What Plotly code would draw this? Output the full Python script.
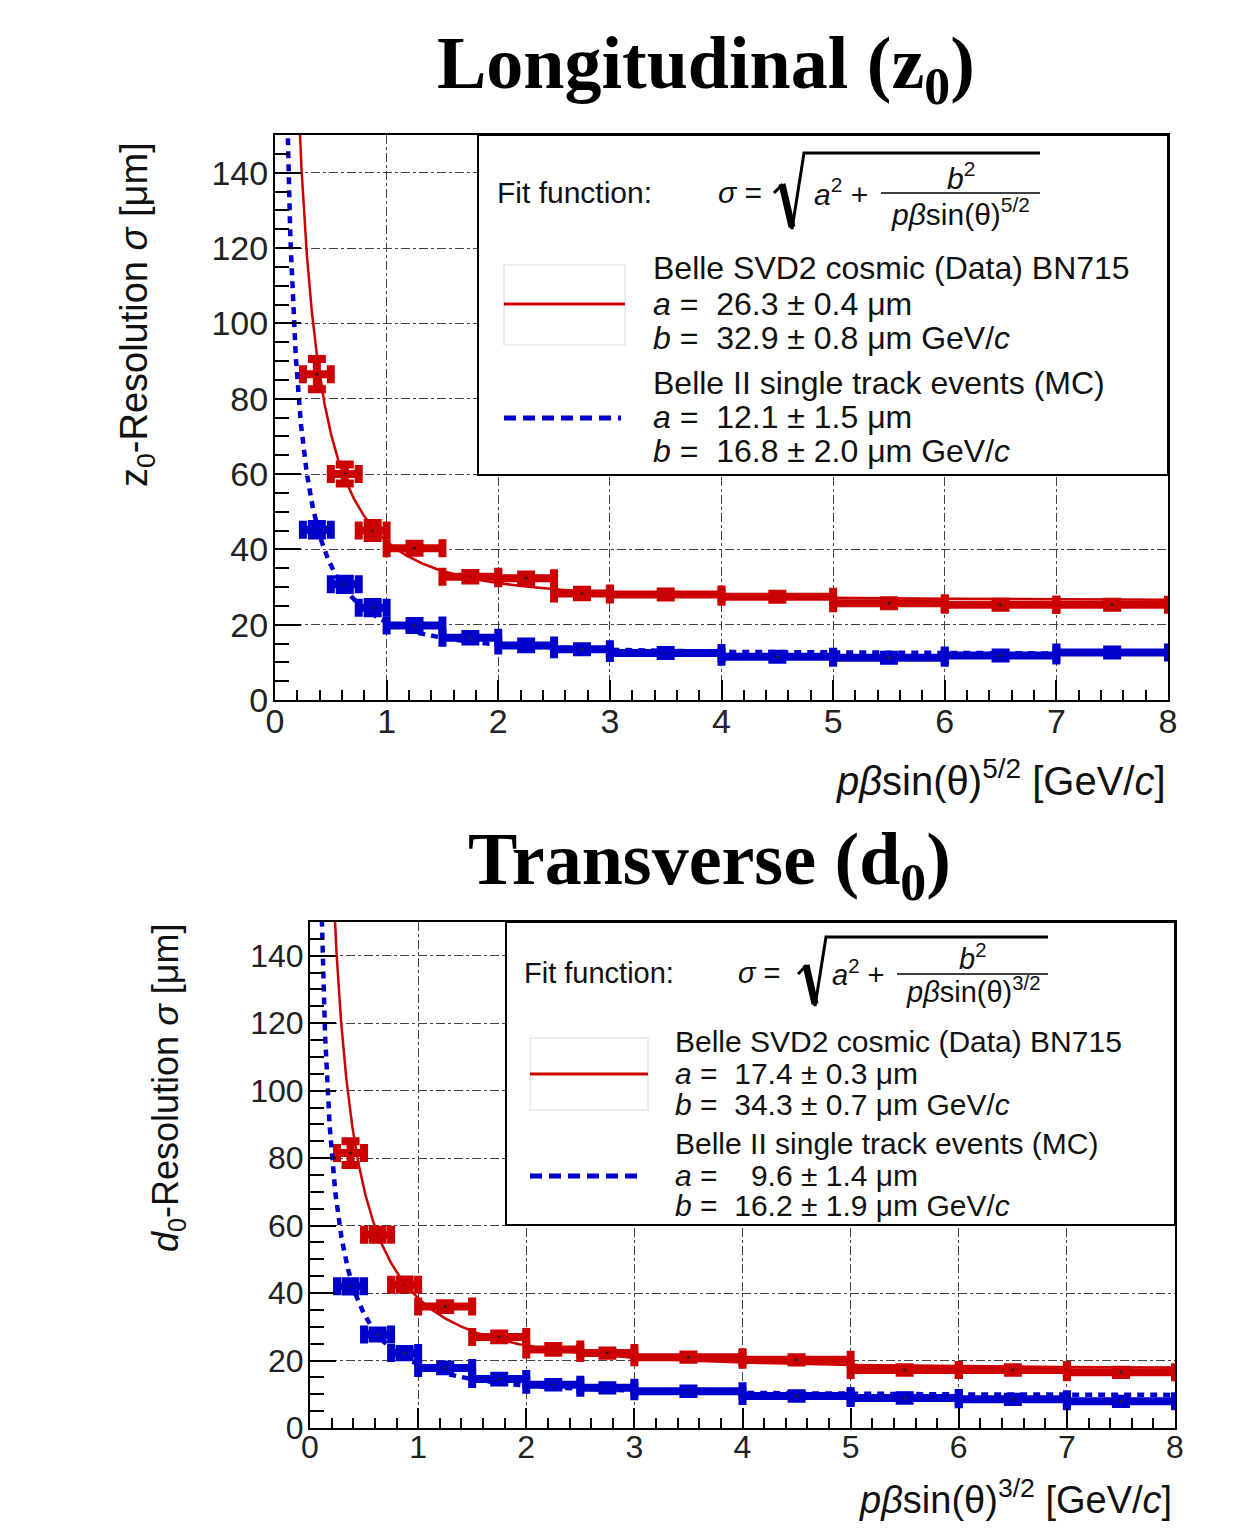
import numpy as np
import plotly.graph_objects as go

W, H = 1251, 1539
OFF = 8  # page body margin of the html page

# ---------------- data ----------------
x_center = [0.375, 0.625, 0.875, 1.25, 1.75, 2.25, 2.75, 3.5, 4.5, 5.5, 6.5, 7.5]
x_halfwidth = [0.125, 0.125, 0.125, 0.25, 0.25, 0.25, 0.25, 0.5, 0.5, 0.5, 0.5, 0.5]

z0_data = [86.5, 60.0, 45.0, 40.3, 32.7, 32.3, 28.3, 28.0, 27.4, 25.7, 25.3, 25.3]
z0_data_err = [4.0, 2.5, 2.0, 1.2, 1.0, 1.0, 1.0, 0.8, 0.8, 0.8, 0.8, 0.8]
z0_mc = [45.2, 30.7, 24.5, 19.8, 16.5, 14.5, 13.5, 12.5, 11.5, 11.2, 11.8, 12.6]
z0_mc_err = [1.5, 1.5, 1.5, 1.2, 1.0, 1.0, 0.8, 0.8, 0.8, 0.8, 0.8, 0.8]

d0_data = [81.5, 57.3, 42.5, 36.0, 27.0, 23.3, 22.2, 21.0, 20.2, 17.2, 17.2, 16.5]
d0_data_err = [3.5, 1.5, 1.5, 1.0, 1.0, 1.0, 0.8, 0.8, 0.8, 0.8, 0.8, 0.8]
d0_mc = [42.0, 27.7, 22.2, 17.8, 14.5, 12.8, 11.9, 10.9, 9.5, 8.9, 8.5, 7.9]
d0_mc_err = [1.5, 1.2, 1.2, 1.0, 1.0, 0.8, 0.8, 0.8, 0.8, 0.8, 0.8, 0.8]

# fit parameters (a, b) shown in the legends
z0_fit_data = (26.3, 32.9)
z0_fit_mc = (12.1, 16.8)
d0_fit_data = (17.4, 34.3)
d0_fit_mc = (9.6, 16.2)

RED = "#cc0000"
BLUE = "#0000cc"
SANS = "Liberation Sans, Arial, sans-serif"
SERIF = "Liberation Serif, Times New Roman, serif"


def fx(p):
    return (p - OFF) / W


def fy(p):
    return 1 - (p - OFF) / H


fig = go.Figure()


def add_panel(xa, ya, data, data_err, mc, mc_err, fit_data, fit_mc):
    xf = np.geomspace(0.06, 8, 900)
    for vals, errs, color, sym in [(data, data_err, RED, "triangle-down"),
                                   (mc, mc_err, BLUE, "triangle-up")]:
        fig.add_trace(go.Scatter(
            x=x_center, y=vals, mode="markers", xaxis=xa, yaxis=ya,
            marker=dict(symbol=sym, size=13, color=color),
            error_x=dict(type="data", array=x_halfwidth, color=color, thickness=8, width=9),
            error_y=dict(type="data", array=errs, color=color, thickness=8, width=9),
            showlegend=False, hoverinfo="skip"))
        fig.add_trace(go.Scatter(
            x=x_center, y=vals, mode="markers", xaxis=xa, yaxis=ya,
            marker=dict(symbol="circle", size=3, color="#222"),
            showlegend=False, hoverinfo="skip"))
    a, b = fit_data
    fig.add_trace(go.Scatter(x=xf, y=np.sqrt(a**2 + b**2 / xf**2), mode="lines",
                             xaxis=xa, yaxis=ya, line=dict(color=RED, width=2.5),
                             showlegend=False, hoverinfo="skip"))
    a, b = fit_mc
    fig.add_trace(go.Scatter(x=xf, y=np.sqrt(a**2 + b**2 / xf**2), mode="lines",
                             xaxis=xa, yaxis=ya, line=dict(color=BLUE, width=4.5, dash="7px,6px"),
                             showlegend=False, hoverinfo="skip"))


add_panel("x", "y", z0_data, z0_data_err, z0_mc, z0_mc_err, z0_fit_data, z0_fit_mc)
add_panel("x2", "y2", d0_data, d0_data_err, d0_mc, d0_mc_err, d0_fit_data, d0_fit_mc)


def xaxis_style(dom, anchor, fsize):
    return dict(domain=dom, anchor=anchor, range=[0, 8], dtick=1, tick0=0, ticks="inside", ticklen=20,
                tickwidth=1.5, tickcolor="black", showline=True, linecolor="black", linewidth=2, mirror=True,
                showgrid=True, gridcolor="#444", griddash="dashdot", gridwidth=1, zeroline=False,
                automargin=False, ticklabelstandoff=-10,
                minor=dict(dtick=0.2, tick0=0, ticks="inside", ticklen=10, tickwidth=1.5,
                           tickcolor="black", showgrid=False),
                tickfont=dict(family=SANS, size=fsize, color="#222"), fixedrange=True)


def yaxis_style(dom, anchor, fsize):
    return dict(domain=dom, anchor=anchor, range=[0, 150], dtick=20, tick0=0, ticks="inside", ticklen=26,
                tickwidth=1.5, tickcolor="black", showline=True, linecolor="black", linewidth=2, mirror=True,
                showgrid=True, gridcolor="#444", griddash="dashdot", gridwidth=1, zeroline=False,
                automargin=False, ticklabelstandoff=-2,
                minor=dict(dtick=5, tick0=0, ticks="inside", ticklen=14, tickwidth=1.5,
                           tickcolor="black", showgrid=False),
                tickfont=dict(family=SANS, size=fsize, color="#222"), fixedrange=True)


fig.update_layout(
    width=W, height=H, margin=dict(l=0, r=0, t=0, b=0, pad=0, autoexpand=False),
    paper_bgcolor="white", plot_bgcolor="white",
    xaxis=xaxis_style([fx(275), fx(1168)], "y", 34),
    yaxis=yaxis_style([fy(700), fy(135)], "x", 34),
    xaxis2=xaxis_style([fx(310), fx(1175)], "y2", 32),
    yaxis2=yaxis_style([fy(1428), fy(922)], "x2", 32),
)

shapes = []
annotations = []


def txt(x, y, s, size, xanchor="left", yanchor="middle", family=SANS, angle=0, color="#111"):
    annotations.append(dict(x=fx(x), y=fy(y), xref="paper", yref="paper", text=s, showarrow=False,
                            xanchor=xanchor, yanchor=yanchor, textangle=angle,
                            font=dict(family=family, size=size, color=color)))


def line(x0, y0, x1, y1, color, width, dash="solid"):
    shapes.append(dict(type="line", xref="paper", yref="paper", x0=fx(x0), y0=fy(y0), x1=fx(x1), y1=fy(y1),
                       line=dict(color=color, width=width, dash=dash), layer="above"))


def legend_box(bx0, by0, bx1, by1, ff_x, ff_y, sig_x, sq, a_x, fr, num_y, den_y, power,
               samp_x0, samp_x1, box_y0, box_y1, red_y, blue_y, text_x, rows, fsize, ffsize):
    shapes.append(dict(type="rect", xref="paper", yref="paper", x0=fx(bx0), y0=fy(by0), x1=fx(bx1), y1=fy(by1),
                       fillcolor="white", line=dict(color="black", width=2), layer="above"))
    txt(ff_x, ff_y, "Fit function:", ffsize)
    txt(sig_x, ff_y, "<i>σ</i> =", ffsize)
    # square-root sign
    pts = sq
    path = "M " + " L ".join(f"{fx(px)},{fy(py)}" for px, py in pts)
    shapes.append(dict(type="path", xref="paper", yref="paper", path=path,
                       line=dict(color="black", width=3), layer="above"))
    # thick descending stroke of the root sign
    line(pts[1][0] + 1, pts[1][1] - 2, pts[2][0], pts[2][1] - 2, "black", 7)
    txt(a_x, ff_y, "<i>a</i><sup>2</sup> +", ffsize)
    line(fr[0], fr[2], fr[1], fr[2], "black", 1.5)
    cx = (fr[0] + fr[1]) / 2
    txt(cx, num_y, "<i>b</i><sup>2</sup>", ffsize, xanchor="center")
    txt(cx, den_y, f"<i>pβ</i>sin(θ)<sup>{power}</sup>", ffsize, xanchor="center")
    # legend samples
    shapes.append(dict(type="rect", xref="paper", yref="paper", x0=fx(samp_x0), y0=fy(box_y0),
                       x1=fx(samp_x1), y1=fy(box_y1), line=dict(color="#e6e6e6", width=1.5), layer="above"))
    line(samp_x0, red_y, samp_x1, red_y, RED, 3)
    line(samp_x0, blue_y, samp_x1 - 4, blue_y, BLUE, 5, dash="12px,7px")
    for (yy, s) in rows:
        txt(text_x, yy, s, fsize)


NB = "\u00a0"
legend_box(478, 135, 1168, 475, 495, 192, 716,
           [(774, 193), (781, 186), (792, 229), (804, 153), (1040, 153)],
           812, (881, 1040, 193), 176, 212, "5/2",
           504, 625, 265, 345, 304, 418, 651,
           [(268, "Belle SVD2 cosmic (Data) BN715"),
            (304, f"<i>a</i> ={NB}{NB}26.3 ± 0.4 μm"),
            (338, f"<i>b</i> ={NB}{NB}32.9 ± 0.8 μm GeV/<i>c</i>"),
            (383, "Belle II single track events (MC)"),
            (417, f"<i>a</i> ={NB}{NB}12.1 ± 1.5 μm"),
            (451, f"<i>b</i> ={NB}{NB}16.8 ± 2.0 μm GeV/<i>c</i>")],
           32, 30)

legend_box(506, 922, 1175, 1225, 522, 973, 736,
           [(798, 974), (805, 967), (815, 1006), (826, 937), (1048, 937)],
           830, (897, 1048, 974), 957, 990, "3/2",
           530, 648, 1038, 1110, 1074, 1176, 673,
           [(1041, "Belle SVD2 cosmic (Data) BN715"),
            (1073, f"<i>a</i> ={NB}{NB}17.4 ± 0.3 μm"),
            (1104, f"<i>b</i> ={NB}{NB}34.3 ± 0.7 μm GeV/<i>c</i>"),
            (1143, "Belle II single track events (MC)"),
            (1175, f"<i>a</i> ={NB}{NB}{NB}{NB}9.6 ± 1.4 μm"),
            (1205, f"<i>b</i> ={NB}{NB}16.2 ± 1.9 μm GeV/<i>c</i>")],
           30, 29)

# titles
txt(706, 68, "<b>Longitudinal (z<sub>0</sub>)</b>", 74, xanchor="center", family=SERIF, color="black")
txt(710, 864, "<b>Transverse (d<sub>0</sub>)</b>", 74, xanchor="center", family=SERIF, color="black")

# axis titles
txt(1168, 778, "<i>p</i><i>β</i>sin(θ)<sup>5/2</sup> [GeV/<i>c</i>]", 40, xanchor="right", color="#111")
txt(1174, 1497, "<i>p</i><i>β</i>sin(θ)<sup>3/2</sup> [GeV/<i>c</i>]", 38, xanchor="right", color="#111")
txt(137, 315, "z<sub>0</sub>-Resolution <i>σ</i> [μm]", 38, xanchor="center", angle=-90, color="#111")
txt(168, 1088, "<i>d</i><sub>0</sub>-Resolution <i>σ</i> [μm]", 36, xanchor="center", angle=-90, color="#111")

fig.update_layout(shapes=shapes, annotations=annotations)
fig.write_html("out.html")
